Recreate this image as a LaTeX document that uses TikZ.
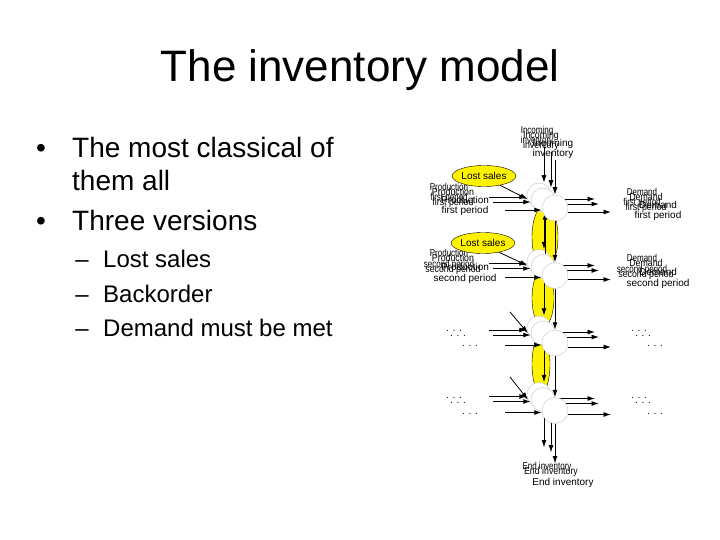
\documentclass[tikz,border=0pt]{standalone}
\usepackage{fontspec}
\setmainfont{Liberation Sans}
\usetikzlibrary{arrows.meta,shapes.geometric}
\tikzset{
  circ/.style={circle, draw=gray!40, line width=0.5pt, fill=white, inner sep=0pt},
  arr/.style={line width=0.95pt, -{Latex[length=7.5pt,width=5pt]}},
  thinarr/.style={line width=0.8pt, -{Latex[length=7.5pt,width=5pt]}},
  lbl/.style={font=\fontsize{10}{10.5}\selectfont, inner sep=0pt, align=center},
  lostsales/.style={ellipse, draw=black, line width=0.4pt, fill=yellow, minimum width=58pt, minimum height=21pt, inner sep=0pt, font=\fontsize{10}{11}\selectfont},
  yell/.style={ellipse, draw=black, line width=0.4pt, fill=yellow, inner sep=0pt},
  titletext/.style={font=\fontsize{44}{50}\selectfont, anchor=base, inner sep=0pt},
  bul/.style={font=\fontsize{28}{32}\selectfont, anchor=base west, inner sep=0pt},
  subl/.style={font=\fontsize{24}{28}\selectfont, anchor=base west, inner sep=0pt},
}
\newcommand\sqz[2]{\scalebox{#1}[1]{#2}}
% #1 prefix, #2 cx, #3 cy, #4 spacing, #5 squeeze, #6 circle size, #7 x offset of in/out arrows
\newcommand\invlayer[7]{%
  \foreach \r in {1,2,3,4}{%
    \node[circ, minimum size=#6pt] (#1\r) at (#2,{#3+(\r-1)*#4}) {};
    \coordinate (#1p\r) at ({#2-50},{#3+(\r-1)*#4+2});
    \coordinate (#1d\r) at ({#2+56},{#3+(\r-1)*#4+4});
    \draw[arr] (#1p\r) -- (#1p\r -| #1\r.west);
    \draw[arr] (#1d\r -| #1\r.east) -- (#1d\r);
  }
  \node[lbl] (#1pt1) at ({#2-90},{#3-2}) {\sqz{#5}{Production}\\\sqz{#5}{first period}};
  \node[lbl] (#1pt2) at ({#2-90},{#3+#4-2}) {\sqz{#5}{Production}\\\sqz{#5}{second period}};
  \node[lbl] (#1dt1) at ({#2+103},{#3+3}) {\sqz{#5}{Demand}\\\sqz{#5}{first period}};
  \node[lbl] (#1dt2) at ({#2+103},{#3+#4+3}) {\sqz{#5}{Demand}\\\sqz{#5}{second period}};
  \node[lbl] (#1pt3) at ({#2-85},{#3+2*#4+3}) {. . .};
  \node[lbl] (#1pt4) at ({#2-85},{#3+3*#4+3}) {. . .};
  \node[lbl] (#1dt3) at ({#2+100},{#3+2*#4+3}) {. . .};
  \node[lbl] (#1dt4) at ({#2+100},{#3+3*#4+3}) {. . .};
  \node[lbl] (#1inT) at ({#2-2},{#3-59}) {\sqz{#5}{Incoming}\\\sqz{#5}{inventory}};
  \node[lbl] (#1endT) at ({#2+8},{#3+3*#4+72}) {\sqz{#5}{End inventory}};
  \coordinate (#1in) at ({#2+#7},{#3-48});
  \draw[arr] (#1in) -- (#1in |- #11.north);
  \coordinate (#1end) at ({#2+#7},{#3+3*#4+53});
  \draw[arr] (#1end |- #14.south) -- (#1end);
}
\begin{document}
\begin{tikzpicture}[x=1pt,y=-1pt]
\useasboundingbox (0,0) rectangle (720,540);
\fill[white] (0,0) rectangle (720,540);

% left side text
\node[titletext] (title) at (360,82) {The inventory model};
\node[bul, anchor=base] (dot1) at (41,158) {\textbullet};
\node[bul] (b1) at (72,158) {The most classical of};
\node[bul] (b1b) at (72,191) {them all};
\node[bul, anchor=base] (dot2) at (41,230) {\textbullet};
\node[bul] (b2) at (72,230) {Three versions};
\node[subl, anchor=base] (da1) at (82,267) {–};
\node[subl] (s1) at (103,267) {Lost sales};
\node[subl, anchor=base] (da2) at (82,302) {–};
\node[subl] (s2) at (103,302) {Backorder};
\node[subl, anchor=base] (da3) at (82,336) {–};
\node[subl] (s3) at (103,336) {Demand must be met};

% yellow ellipses between the periods
\node[yell, minimum width=26pt, minimum height=64pt] (y1) at (545,237) {};
\node[yell, minimum width=22pt, minimum height=58pt] (y2) at (543,298) {};
\node[yell, minimum width=18pt, minimum height=58pt] (y3) at (541,364) {};

% layer A (lost sales)
\invlayer{A}{539}{195}{66.5}{0.8}{24}{5}
\node[lostsales] (ls1) at (484,176) {Lost sales};
\node[lostsales] (ls2) at (483,243) {Lost sales};
\draw[thinarr] (ls1.-30) -- (A1.200);
\draw[thinarr] (ls2.-30) -- (A2.200);
\coordinate (ls3) at (510,312);
\coordinate (ls4) at (510,377);
\draw[thinarr] (ls3) -- (A3.205);
\draw[thinarr] (ls4) -- (A4.205);
\foreach \r/\s in {1/2,2/3,3/4}{
  \draw[arr] ([xshift=5pt]A\r.south) -- ([xshift=5pt]A\s.north);
}

% layer B (backorder)
\invlayer{B}{543}{200}{66.5}{0.88}{24}{8}
\draw[arr] ([xshift=2pt]B2.north) -- ([xshift=2pt]B1.south);

% layer C (demand must be met)
\invlayer{C}{555}{208}{67.5}{1.0}{26}{0}
\foreach \r/\s in {1/2,2/3,3/4}{
  \draw[arr] (C\r.south) -- (C\s.north);
}
\end{tikzpicture}
\end{document}
